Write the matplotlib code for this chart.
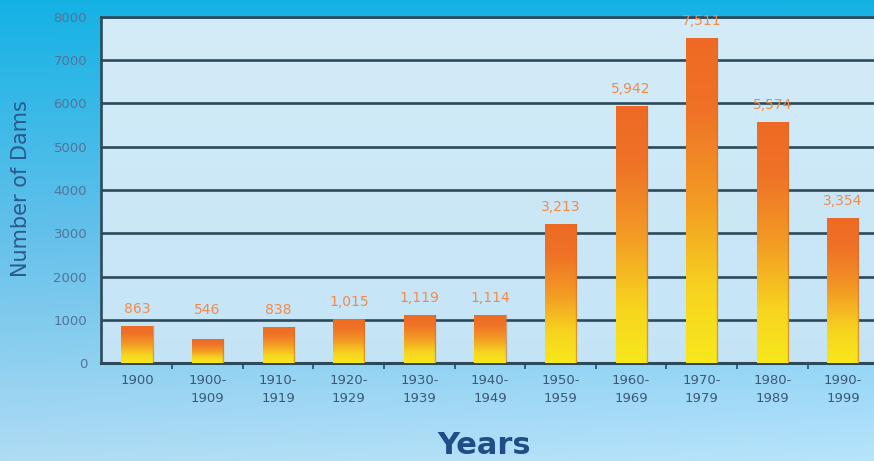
import numpy as np
import matplotlib
matplotlib.use("Agg")
import matplotlib.pyplot as plt
from matplotlib.colors import LinearSegmentedColormap, to_rgb

categories = ["1900", "1900-\n1909", "1910-\n1919", "1920-\n1929", "1930-\n1939",
              "1940-\n1949", "1950-\n1959", "1960-\n1969", "1970-\n1979",
              "1980-\n1989", "1990-\n1999"]
values = [863, 546, 838, 1015, 1119, 1114, 3213, 5942, 7511, 5574, 3354]
yticks = [0, 1000, 2000, 3000, 4000, 5000, 6000, 7000, 8000]

W, H = 874, 461
fig = plt.figure(figsize=(W / 100, H / 100), dpi=100)

# figure background gradient
bg = fig.add_axes([0, 0, 1, 1], zorder=-10)
ny, nx = 200, 200
yy = np.linspace(0, 1, ny)[:, None]  # 0 top -> 1 bottom
xx = np.linspace(0, 1, nx)[None, :]
top = np.array(to_rgb("#14b2e4"))
mid = np.array(to_rgb("#62c0ea"))
bot = np.array(to_rgb("#b0dcf4"))
t = np.clip(yy / 0.5, 0, 1)[..., None]
t2 = np.clip((yy[..., None] - 0.5) / 0.5, 0, 1)
col = np.where(yy[..., None] < 0.5, top * (1 - t) + mid * t, mid * (1 - t2) + bot * t2)
col = np.broadcast_to(col, (ny, nx, 3)).copy()
col = np.clip(col + 0.03 * xx[..., None] * yy[..., None], 0, 1)
bg.imshow(col, aspect="auto", extent=(0, 1, 0, 1), origin="upper")
bg.set_axis_off()

left = 101 / W
right = 1.0
bottom = (H - 363) / H
topy = (H - 17) / H
ax = fig.add_axes([left, bottom, right - left, topy - bottom])
ax.set_facecolor("none")

x = np.arange(len(categories))
XL = (-0.51, 10.44)

# axes face gradient
face = np.linspace(0, 1, 100)[:, None, None]
c1 = np.array(to_rgb("#c4e4f6"))
c2 = np.array(to_rgb("#d4ecf8"))
fimg = c1 * (1 - face) + c2 * face
fimg = np.broadcast_to(fimg, (100, 10, 3))
ax.imshow(fimg, aspect="auto", extent=(XL[0], XL[1], 8000, 0), zorder=0)

grid_color = "#2c4a5c"
for yv in yticks[1:]:
    ax.axhline(yv, color=grid_color, lw=1.9, zorder=1)

cmap = LinearSegmentedColormap.from_list(
    "bar", [(0.0, "#f8e81c"), (0.22, "#f7d41f"), (0.5, "#f39a24"),
            (0.78, "#ef7226"), (1.0, "#ee6a24")])
bars = ax.bar(x, values, width=0.44, color="none", edgecolor="none", zorder=3)
grad = np.linspace(0, 1, 256)[:, None]
for b in bars:
    x0, w, h = b.get_x(), b.get_width(), b.get_height()
    im = ax.imshow(grad, cmap=cmap, aspect="auto", origin="lower",
                   extent=(x0, x0 + w, 0, h), zorder=3)
    im.set_clip_path(b)
    ax.plot([x0 + w, x0 + w], [0, h], color="#c9702e", lw=1.0, alpha=0.6, zorder=4)

# value labels (kept clear of the 1000 gridline for the shortest bars)
for xi, v in zip(x, values):
    ax.annotate(f"{v:,}", (xi, max(v, 850)), xytext=(0, 12), textcoords="offset points",
                ha="center", va="center", fontsize=10, color="#f28a4c",
                family="DejaVu Sans", zorder=6)

ax.set_xlim(*XL)
ax.set_ylim(0, 8000)

ax.set_xticks(x)
ax.set_xticklabels(categories, fontsize=9.5, color="#3c5878", linespacing=1.5,
                   family="DejaVu Sans")
ax.set_xticks(x[:-1] + 0.5, minor=True)
ax.tick_params(axis="x", which="major", length=0, pad=8)
ax.tick_params(axis="x", which="minor", length=4, width=1.2, color=grid_color,
               direction="out")
ax.set_yticks(yticks)
ax.set_yticklabels([str(v) for v in yticks], fontsize=9.5, color="#53739a",
                   family="DejaVu Sans")
ax.tick_params(axis="y", length=0, pad=10)

ax.spines["right"].set_visible(False)
ax.spines["top"].set_color(grid_color)
ax.spines["top"].set_linewidth(1.9)
ax.spines["left"].set_color(grid_color)
ax.spines["left"].set_linewidth(1.9)
ax.spines["bottom"].set_color(grid_color)
ax.spines["bottom"].set_linewidth(2.2)

fig.text(21 / W, 1 - 189 / H, "Number of Dams", rotation=90, ha="center",
         va="center", fontsize=15, color="#2a5a8c", family="DejaVu Sans")
fig.text(484 / W, 1 - 445 / H, "Years", ha="center", va="center",
         fontsize=22, fontweight="bold", color="#1f4e86", family="DejaVu Sans")

fig.savefig("out.png", dpi=100)
